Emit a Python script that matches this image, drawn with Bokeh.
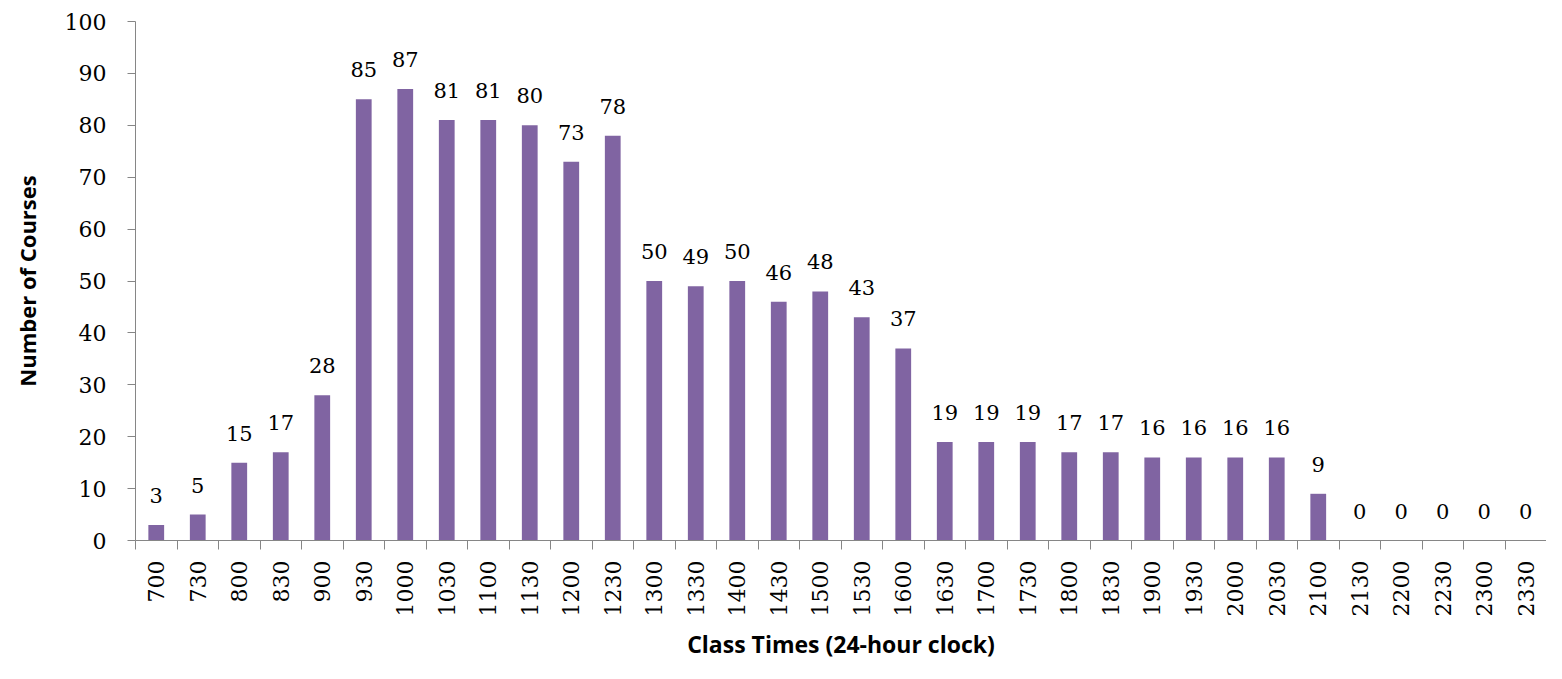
from bokeh.plotting import figure
from bokeh.models import Range1d, FixedTicker, ColumnDataSource
from bokeh.embed import file_html
from bokeh.resources import INLINE
from bokeh.core.properties import value
import math

times = ["700", "730", "800", "830", "900", "930", "1000", "1030", "1100", "1130",
         "1200", "1230", "1300", "1330", "1400", "1430", "1500", "1530", "1600", "1630",
         "1700", "1730", "1800", "1830", "1900", "1930", "2000", "2030", "2100", "2130",
         "2200", "2230", "2300", "2330"]
counts = [3, 5, 15, 17, 28, 85, 87, 81, 81, 80,
          73, 78, 50, 49, 50, 46, 48, 43, 37, 19,
          19, 19, 17, 17, 16, 16, 16, 16, 9, 0,
          0, 0, 0, 0]

n = len(times)
centers = [i + 0.5 for i in range(n)]
bounds = [float(i) for i in range(n + 1)]

src = ColumnDataSource(dict(x=centers, top=counts, label=[str(c) for c in counts]))

p = figure(width=1546, height=663, output_backend="svg", toolbar_location=None,
           x_range=Range1d(0, n), y_range=Range1d(0, 100),
           min_border_left=135, min_border_top=21, min_border_bottom=121, min_border_right=0)
p.outline_line_color = None
p.xgrid.visible = False
p.ygrid.visible = False
p.background_fill_color = "white"

p.vbar(x="x", top="top", width=0.38, source=src, fill_color="#8064A2", line_color=None)
p.text(x="x", y="top", text="label", source=src, text_align="center", text_baseline="bottom",
       y_offset=-22, text_font=value("DejaVu Serif"), text_font_size="21px", text_color="black")

axis_col = "#868686"
# y axis
p.yaxis.ticker = FixedTicker(ticks=list(range(0, 101, 10)))
p.yaxis.axis_line_color = axis_col
p.yaxis.major_tick_line_color = axis_col
p.yaxis.major_tick_out = 8
p.yaxis.major_tick_in = 0
p.yaxis.minor_tick_line_color = None
p.yaxis.major_label_standoff = 21
p.yaxis.major_label_text_font = "DejaVu Serif"
p.yaxis.major_label_text_font_size = "22px"
p.yaxis.major_label_text_color = "black"
p.yaxis.axis_label = "Number of Courses"
p.yaxis.axis_label_text_font = "Open Sans"
p.yaxis.axis_label_text_font_style = "bold"
p.yaxis.axis_label_text_font_size = "22px"
p.yaxis.axis_label_text_color = "black"
p.yaxis.axis_label_standoff = 20

# x axis
p.xaxis.ticker = FixedTicker(ticks=centers, minor_ticks=bounds)
p.xaxis.major_label_overrides = {c: t for c, t in zip(centers, times)}
p.xaxis.axis_line_color = axis_col
p.xaxis.major_tick_line_color = None
p.xaxis.major_tick_out = 0
p.xaxis.major_tick_in = 0
p.xaxis.minor_tick_line_color = axis_col
p.xaxis.minor_tick_out = 9
p.xaxis.minor_tick_in = 0
p.xaxis.major_label_orientation = math.pi / 2
p.xaxis.major_label_standoff = 11
p.xaxis.major_label_text_font = "DejaVu Serif"
p.xaxis.major_label_text_font_size = "22px"
p.xaxis.major_label_text_color = "black"
p.xaxis.axis_label = "Class Times (24-hour clock)"
p.xaxis.axis_label_text_font = "Open Sans"
p.xaxis.axis_label_text_font_style = "bold"
p.xaxis.axis_label_text_font_size = "23px"
p.xaxis.axis_label_text_color = "black"
p.xaxis.axis_label_standoff = 9

open("out.html", "w").write(file_html(p, INLINE))
